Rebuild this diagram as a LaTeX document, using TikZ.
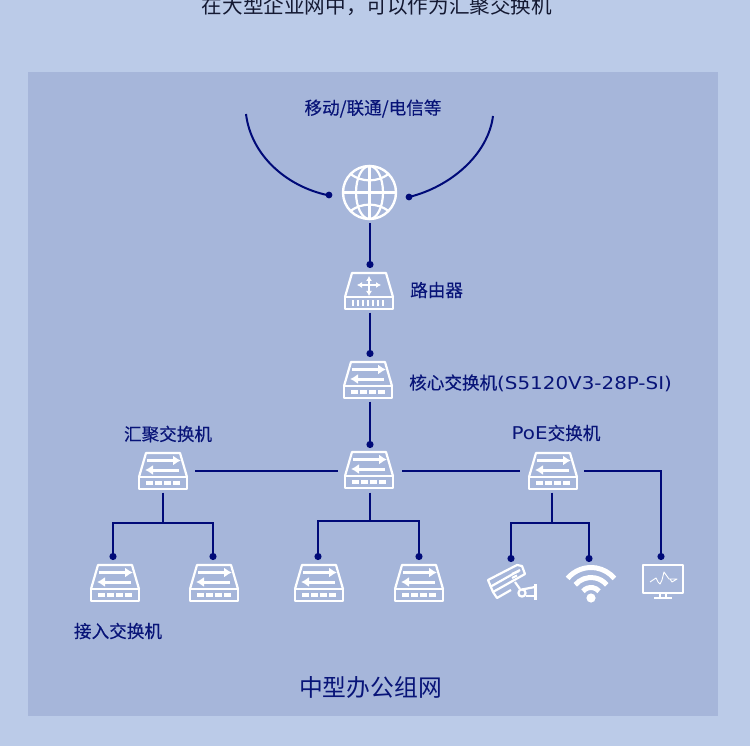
\documentclass[tikz,border=0pt]{standalone}
\usepackage{fontspec}
\setmainfont{Noto Sans CJK SC}[FakeBold=0.25]
\newfontfamily\widelatin{DejaVu Sans}[FakeStretch=1.13]
\newfontfamily\plainfont{Noto Sans CJK SC}
\usetikzlibrary{arrows.meta,calc}
\definecolor{pageblue}{RGB}{187,203,232}
\definecolor{panelblue}{RGB}{166,182,218}
\definecolor{navy}{RGB}{0,10,120}
\definecolor{labelnavy}{RGB}{8,20,120}
\definecolor{headink}{RGB}{20,25,50}
\tikzset{
  x=1pt,y=-1pt,
  wire/.style={draw=navy,line width=2pt},
  feed/.style={wire,-{Circle[length=7pt,width=7pt]},shorten >=1.5pt},
  iconline/.style={draw=white,line width=2.2pt,line join=round},
  slot/.style={inner sep=0pt,minimum width=48pt,minimum height=37pt,outer xsep=8pt,outer ysep=3pt},
  lbl/.style={text=labelnavy,font=\fontsize{17.6}{19}\selectfont,inner sep=0pt},
  switchicon/.pic={
    \draw[iconline] (-24,6) -- (-17,-18) -- (17,-18) -- (24,6);
    \draw[iconline] (-24,6) rectangle (24,18);
    \draw[white,line width=3pt,-{Latex[length=8pt,width=10pt]}] (-16,-10.5) -- (18,-10.5);
    \draw[white,line width=3pt,-{Latex[length=8pt,width=10pt]}] (16,-1) -- (-18,-1);
    \foreach \q in {-17,-8,1,10}{\draw[white,line width=3.6pt] (\q,12) -- (\q+7,12);}
  },
  routericon/.pic={
    \draw[iconline] (-24,6) -- (-17,-18) -- (17,-18) -- (24,6);
    \draw[iconline] (-24,6) rectangle (24,18);
    \draw[white,line width=1.6pt,{Latex[length=5pt,width=6pt]}-{Latex[length=5pt,width=6pt]}] (-12,-6) -- (12,-6);
    \draw[white,line width=1.6pt,{Latex[length=5pt,width=6pt]}-{Latex[length=5pt,width=6pt]}] (0,-15) -- (0,5);
    \foreach \q in {-16,-11,-6,-1,4,9,14}{\draw[white,line width=1.7pt] (\q,9) -- (\q,15);}
  },
}
\begin{document}
\begin{tikzpicture}
\useasboundingbox (0,0) rectangle (750,746);
\fill[pageblue] (0,0) rectangle (750,746);
\fill[panelblue] (28,72) rectangle (718,716);

% texts
\node[text=headink,font=\plainfont\fontsize{20.6}{22}\selectfont,inner sep=0pt] (headline) at (377,6) {在大型企业网中，可以作为汇聚交换机};
\node[lbl] (carriers) at (373,108.5) {移动/联通/电信等};
\node[lbl,anchor=west] (routerlabel) at (410,290) {路由器};
\node[lbl,anchor=west] (corelabel) at (409,383) {核心交换机{\widelatin (S5120V3-28P-SI)}};
\node[lbl] (agglabel) at (168,434) {汇聚交换机};
\node[lbl] (poelabel) at (556,433) {{\widelatin PoE}交换机};
\node[lbl] (acclabel) at (118,631) {接入交换机};
\node[text=labelnavy,font=\plainfont\fontsize{23.8}{25}\selectfont,inner sep=0pt] (title) at (370.5,687.5) {中型办公组网};

% icon slots
\node[inner sep=0pt,minimum size=54pt,outer sep=3pt] (globe) at (370,193) {};
\node[slot] (router) at (370,291) {};
\node[slot] (core) at (370,380) {};
\node[slot] (hub) at (370,471) {};
\node[slot] (agg) at (163,471) {};
\node[slot] (poe) at (552,471) {};
\node[slot] (acc1) at (113,583) {};
\node[slot] (acc2) at (213,583) {};
\node[slot] (acc3) at (318,583) {};
\node[slot] (acc4) at (419,583) {};
\node[slot] (cam) at (511,585) {};
\node[slot] (wifi) at (589,585) {};
\node[slot] (screen) at (661,583) {};

% icons
\pic at (369,291) {routericon};
\pic at (368,380) {switchicon};
\pic at (369,470) {switchicon};
\pic at (163,471) {switchicon};
\pic at (553,471) {switchicon};
\pic at (115,583) {switchicon};
\pic at (214,583) {switchicon};
\pic at (319,583) {switchicon};
\pic at (419,583) {switchicon};

% globe
\begin{scope}[shift={(369.5,192.5)}]
  \draw[iconline,line width=2.4pt] (0,0) circle (26.5);
  \draw[iconline] (0,0) ellipse (13.5 and 26.5);
  \draw[iconline] (0,-26.5) -- (0,26.5) (-26.5,0) -- (26.5,0);
  \draw[iconline] (-19,-18.5) .. controls (-8,-10) and (8,-10) .. (19,-18.5);
  \draw[iconline] (-19,18.5) .. controls (-8,10) and (8,10) .. (19,18.5);
\end{scope}

% camera
\draw[iconline] (488,580) -- (517,565) -- (522,566) -- (525,574) -- (493,592) -- cycle;
\draw[iconline] (512,574) -- (519,571);
\draw[iconline] (512,578) -- (517,575.5);
\draw[iconline] (490,587) -- (520,570);
\draw[iconline] (493,592) -- (497,598) -- (511,590);
\draw[iconline] (515,582) -- (520,589);
\draw[iconline] (522,593) circle (3.6);
\draw[iconline] (522,589.5) -- (535,587);
\draw[iconline] (525.5,596) -- (535,596);
\draw[iconline] (535.5,584) -- (535.5,600);

% wifi
\begin{scope}[shift={(591,598)}]
  \fill[white] (0,0) circle (4.6);
  \foreach \r in {10.5,20.5,30.5}{
    \draw[white,line width=5pt] ({-sin(50)*\r},{-cos(50)*\r}) arc[start angle=-140,end angle=-40,radius=\r];
  }
\end{scope}

% monitor
\begin{scope}[shift={(663,579)}]
  \draw[iconline] (-20,-14) rectangle (20,14);
  \draw[iconline,line width=2.4pt] (-3,14) -- (-3,19) (3,14) -- (3,19);
  \draw[iconline] (-9,19) -- (9,19);
  \draw[white,line width=.9pt,line join=round] (-13,3) -- (-7,-1) -- (-5,3) -- (-3,5) -- (-1,1) -- (1,-7) -- (6,0) -- (14,0) -- (9,3) -- (7,0);
\end{scope}

% connectors
\draw[wire] (246,114) .. controls (251,155) and (286,186) .. (327,195);
\fill[navy] (329,195) circle (3.4);
\draw[wire] (493,116) .. controls (488,155) and (450,187) .. (409,197);
\fill[navy] (409,197) circle (3.4);
\draw[feed] (globe.south) -- (router.north);
\draw[feed] (router.south) -- (core.north);
\draw[feed] (core.south) -- (hub.north);
\draw[wire] (agg.east) -- (hub.west);
\draw[wire] (hub.east) -- (poe.west);

\coordinate (hubdrop) at (370,521);
\coordinate (aggdrop) at (163,523);
\coordinate (poedrop) at (552,523);
\draw[wire] (hub.south) -- (hubdrop);
\draw[wire] (agg.south) -- (aggdrop);
\draw[wire] (poe.south) -- (poedrop);
\draw[feed] (aggdrop) -| (acc1.north);
\draw[feed] (aggdrop) -| (acc2.north);
\draw[feed] (hubdrop) -| (acc3.north);
\draw[feed] (hubdrop) -| (acc4.north);
\draw[feed] (poedrop) -| (cam.north);
\draw[feed] (poedrop) -| (wifi.north);
\draw[feed] (poe.east) -| (screen.north);
\end{tikzpicture}
\end{document}
